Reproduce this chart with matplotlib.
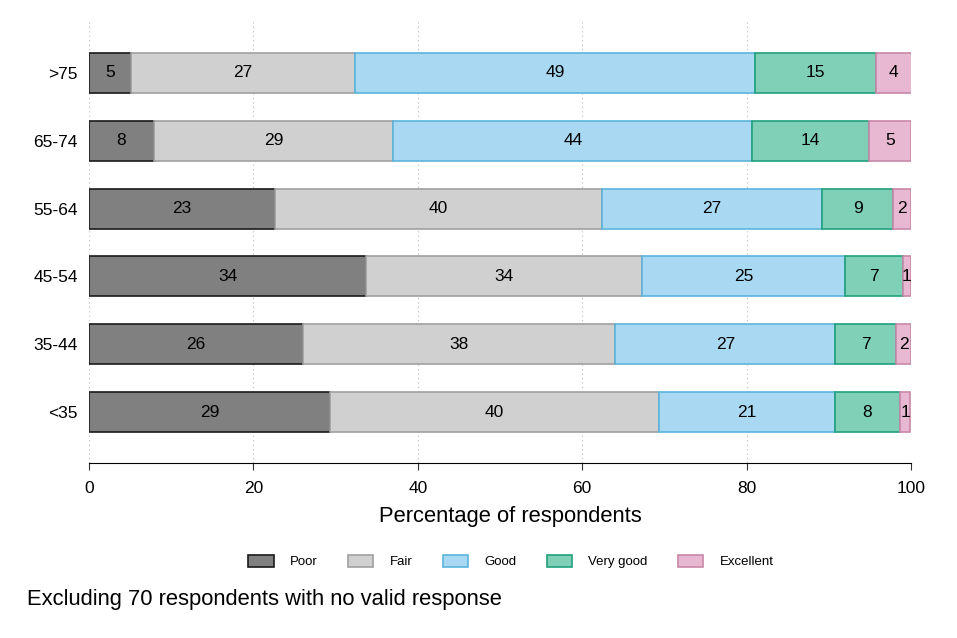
import matplotlib.pyplot as plt
import numpy as np

plt.rcParams['font.family'] = ['Liberation Sans', 'DejaVu Sans']

groups = ['<35', '35-44', '45-54', '55-64', '65-74', '>75']
categories = ['Poor', 'Fair', 'Good', 'Very good', 'Excellent']

poor = [29.3, 26.0, 33.7, 22.6, 7.9, 5.1]
fair = [40.0, 38.0, 33.6, 39.8, 29.1, 27.3]
good = [21.4, 26.8, 24.7, 26.8, 43.7, 48.6]
very_good = [8.0, 7.4, 7.0, 8.6, 14.2, 14.7]
excellent = [1.2, 1.8, 1.0, 2.2, 5.1, 4.4]

series = [poor, fair, good, very_good, excellent]
fills = ['#808080', '#d0d0d0', '#a8d8f2', '#80d0b8', '#e8b8d2']
edges = ['#1a1a1a', '#a0a0a0', '#5cb4dc', '#20a07c', '#c888a8']

fig = plt.figure(figsize=(9.57, 6.38), dpi=100)
ax = fig.add_axes([0.093, 0.274, 0.859, 0.695])

y = np.arange(len(groups))
left = np.zeros(len(groups))
for vals, name, fc, ec in zip(series, categories, fills, edges):
    bars = ax.barh(y, vals, left=left, height=0.59, color=fc, edgecolor=ec,
                   linewidth=1.2, label=name, zorder=3)
    ax.bar_label(bars, labels=[f'{v:.0f}' for v in vals], label_type='center',
                 fontsize=12.5, color='black')
    left += np.array(vals)

ax.set_xlim(0, 100)
ax.set_ylim(-0.75, 5.78)
ax.set_yticks(y)
ax.set_yticklabels(groups, fontsize=12.5)
ax.set_xticks(range(0, 101, 20))
ax.tick_params(axis='x', labelsize=12.5, length=5, pad=8, color='#333333')
ax.tick_params(axis='y', length=0, pad=8)
ax.xaxis.grid(True, linestyle=(0, (1, 3)), color='#bbbbbb', linewidth=0.8, zorder=0)
for s in ['top', 'right', 'left']:
    ax.spines[s].set_visible(False)
ax.spines['bottom'].set_color('black')
ax.set_xlabel('Percentage of respondents', fontsize=15.8)
ax.xaxis.set_label_coords(0.513, -0.097)

fig.legend(*ax.get_legend_handles_labels(), loc='center', ncol=5,
           bbox_to_anchor=(0.534, 0.12), frameon=False, fontsize=9.5,
           handlelength=1.9, handleheight=1.1, columnspacing=2.3, handletextpad=1.25)

fig.text(0.028, 0.0596, 'Excluding 70 respondents with no valid response',
         fontsize=15.8, va='center')

plt.savefig('out.png', dpi=100)
